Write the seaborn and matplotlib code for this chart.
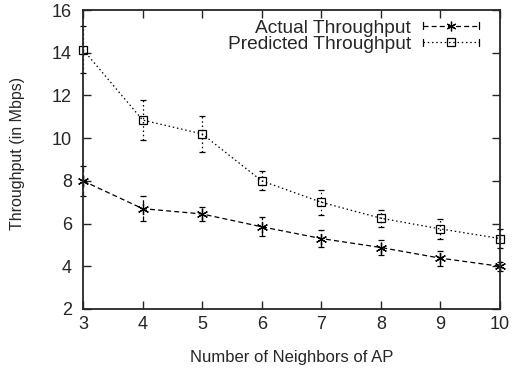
import numpy as np
import pandas as pd
import matplotlib
matplotlib.use("Agg")
import matplotlib.pyplot as plt
import seaborn as sns
from matplotlib.lines import Line2D
from matplotlib.legend_handler import HandlerBase

# data
neighbors = [3, 4, 5, 6, 7, 8, 9, 10]
actual = [8.0, 6.7, 6.45, 5.85, 5.3, 4.88, 4.38, 4.0]
actual_err = [0.7, 0.6, 0.35, 0.45, 0.4, 0.35, 0.35, 0.2]
predicted = [14.15, 10.85, 10.2, 8.0, 7.0, 6.25, 5.75, 5.3]
predicted_err = [1.1, 0.95, 0.85, 0.45, 0.58, 0.4, 0.45, 0.45]

sns.set_style("ticks")
plt.rcParams['font.family'] = ['Liberation Sans', 'DejaVu Sans']

df = pd.DataFrame({"x": neighbors * 2,
                   "y": actual + predicted,
                   "series": ["Actual Throughput"] * 8 + ["Predicted Throughput"] * 8})

fig = plt.figure(figsize=(5.14, 3.73), dpi=100)
ax = fig.add_axes([0.1615, 0.1716, 0.8113, 0.8014])

asterisk = (6, 2, 0)
dash_a = (4, 2.5)
dash_p = (1.2, 2.2)

sns.lineplot(data=df[df.series == "Actual Throughput"], x="x", y="y", ax=ax,
             color="black", lw=0.9, dashes=False, legend=False, clip_on=False,
             linestyle=(0, dash_a), marker=asterisk, markersize=8,
             markeredgewidth=0.9, markerfacecolor="none", markeredgecolor="black")
sns.lineplot(data=df[df.series == "Predicted Throughput"], x="x", y="y", ax=ax,
             color="black", lw=0.9, dashes=False, legend=False, clip_on=False,
             linestyle=(0, dash_p), marker="s", markersize=6,
             markeredgewidth=0.9, markerfacecolor="none", markeredgecolor="black")

eb1 = ax.errorbar(neighbors, actual, yerr=actual_err, fmt="none", ecolor="black",
                  elinewidth=0.9, capsize=2.3, capthick=0.9, clip_on=False)
eb1[2][0].set_linestyle((0, dash_a))
eb2 = ax.errorbar(neighbors, predicted, yerr=predicted_err, fmt="none", ecolor="black",
                  elinewidth=0.9, capsize=2.3, capthick=0.9, clip_on=False)
eb2[2][0].set_linestyle((0, dash_p))
for c in list(eb1[1]) + list(eb2[1]):
    c.set_clip_on(False)

ax.set_xlim(3, 10)
ax.set_ylim(2, 16)
ax.set_xticks(range(3, 11))
ax.set_yticks(range(2, 17, 2))
ax.tick_params(direction="in", top=True, right=True, length=6, width=1,
               labelsize=13)
ax.tick_params(axis="y", pad=8)
ax.tick_params(axis="x", pad=5)
for s in ax.spines.values():
    s.set_linewidth(1.3)
ax.set_xlabel("Number of Neighbors of AP", fontsize=12, labelpad=12)
ax.set_ylabel("Throughput (in Mbps)", fontsize=11.5)
ax.yaxis.set_label_coords(-0.139, 0.52)


class CapHandler(HandlerBase):
    def create_artists(self, legend, orig_handle, xdescent, ydescent, width, height,
                       fontsize, trans):
        y = height / 2 - ydescent
        x0, x1 = -xdescent, width - xdescent
        line = Line2D([x0, x1], [y, y], color="black", lw=0.9, linestyle=orig_handle._dash_style)
        cap0 = Line2D([x0, x0], [y - 2.5, y + 2.5], color="black", lw=0.9)
        cap1 = Line2D([x1, x1], [y - 2.5, y + 2.5], color="black", lw=0.9)
        mk = Line2D([(x0 + x1) / 2], [y], marker=orig_handle.get_marker(), color="black",
                    markersize=orig_handle.get_markersize(), markerfacecolor="none",
                    markeredgewidth=0.9, linestyle="none")
        arts = [line, cap0, cap1, mk]
        for a in arts:
            a.set_transform(trans)
        return arts


h1 = Line2D([], [], color="black", marker=asterisk, markersize=7)
h1._dash_style = (0, dash_a)
h2 = Line2D([], [], color="black", marker="s", markersize=5.5)
h2._dash_style = (0, dash_p)
ax.legend([h1, h2], ["Actual Throughput", "Predicted Throughput"], loc="upper right",
          frameon=False, markerfirst=False, fontsize=13.8, handlelength=2.9,
          handletextpad=0.62, labelspacing=-0.05, borderaxespad=0.0,
          bbox_to_anchor=(0.967, 0.995),
          handler_map={h1: CapHandler(), h2: CapHandler()})

fig.savefig("out.png", dpi=100)
